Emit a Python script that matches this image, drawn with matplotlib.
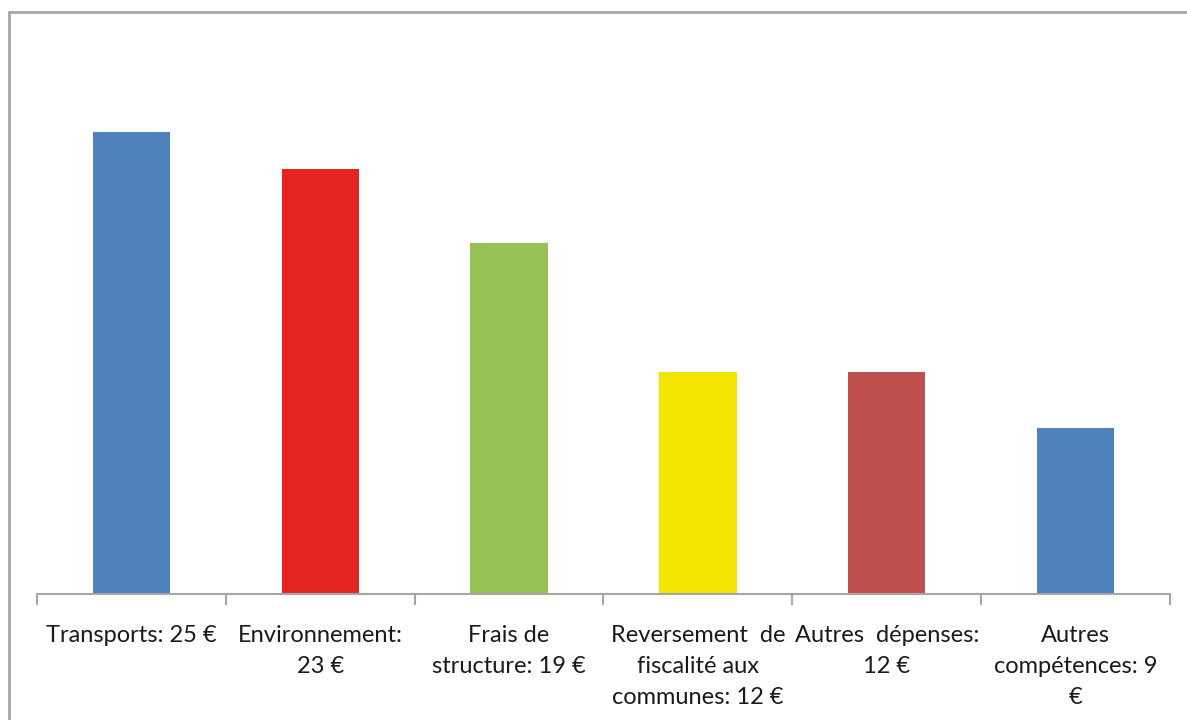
import matplotlib
matplotlib.use("Agg")
import matplotlib.pyplot as plt
from matplotlib.patches import Rectangle

categories = ["Transports: 25 €", "Environnement:\n23 €", "Frais de\nstructure: 19 €",
              "Reversement  de\nfiscalité aux\ncommunes: 12 €", "Autres  dépenses:\n12 €",
              "Autres\ncompétences: 9\n€"]
values = [25, 23, 19, 12, 12, 9]
colors = ["#4f81bd", "#e52521", "#97c155", "#f2e600", "#c0504d", "#4f81bd"]

plt.rcParams['font.family'] = ['Lato', 'DejaVu Sans']

fig = plt.figure(figsize=(11.87, 7.2), dpi=100)
ax = fig.add_axes([37/1187, 126/720, (1170-37)/1187, 554/720])

x = list(range(len(values)))
ax.bar(x, values, width=0.41, color=colors, zorder=2)
ax.set_xlim(-0.5, len(values) - 0.5)
ax.set_ylim(0, 30)

for s in ["top", "right", "left"]:
    ax.spines[s].set_visible(False)
ax.spines["bottom"].set_color("#a6a6a6")
ax.spines["bottom"].set_linewidth(1.5)
ax.set_yticks([])
ax.set_xticks([i - 0.5 for i in range(len(values) + 1)], minor=False)
ax.set_xticklabels([])
ax.tick_params(axis="x", which="major", length=8, width=1.5, color="#a6a6a6", direction="out")
ax.set_xticks(x, minor=True)
ax.set_xticklabels(categories, minor=True, fontsize=17, color="#1a1a1a", linespacing=1.6)
ax.tick_params(axis="x", which="minor", length=0, pad=22)
for lbl in ax.get_xticklabels(minor=True):
    lbl.set_verticalalignment("top")
    lbl.set_horizontalalignment("center")

fig.patches.append(Rectangle((9/1187, -0.1), 1.2, 1 - 12/720 + 0.1, transform=fig.transFigure,
                             fill=False, edgecolor="#a6a6a6", linewidth=2))

fig.savefig("out.png", dpi=100)
